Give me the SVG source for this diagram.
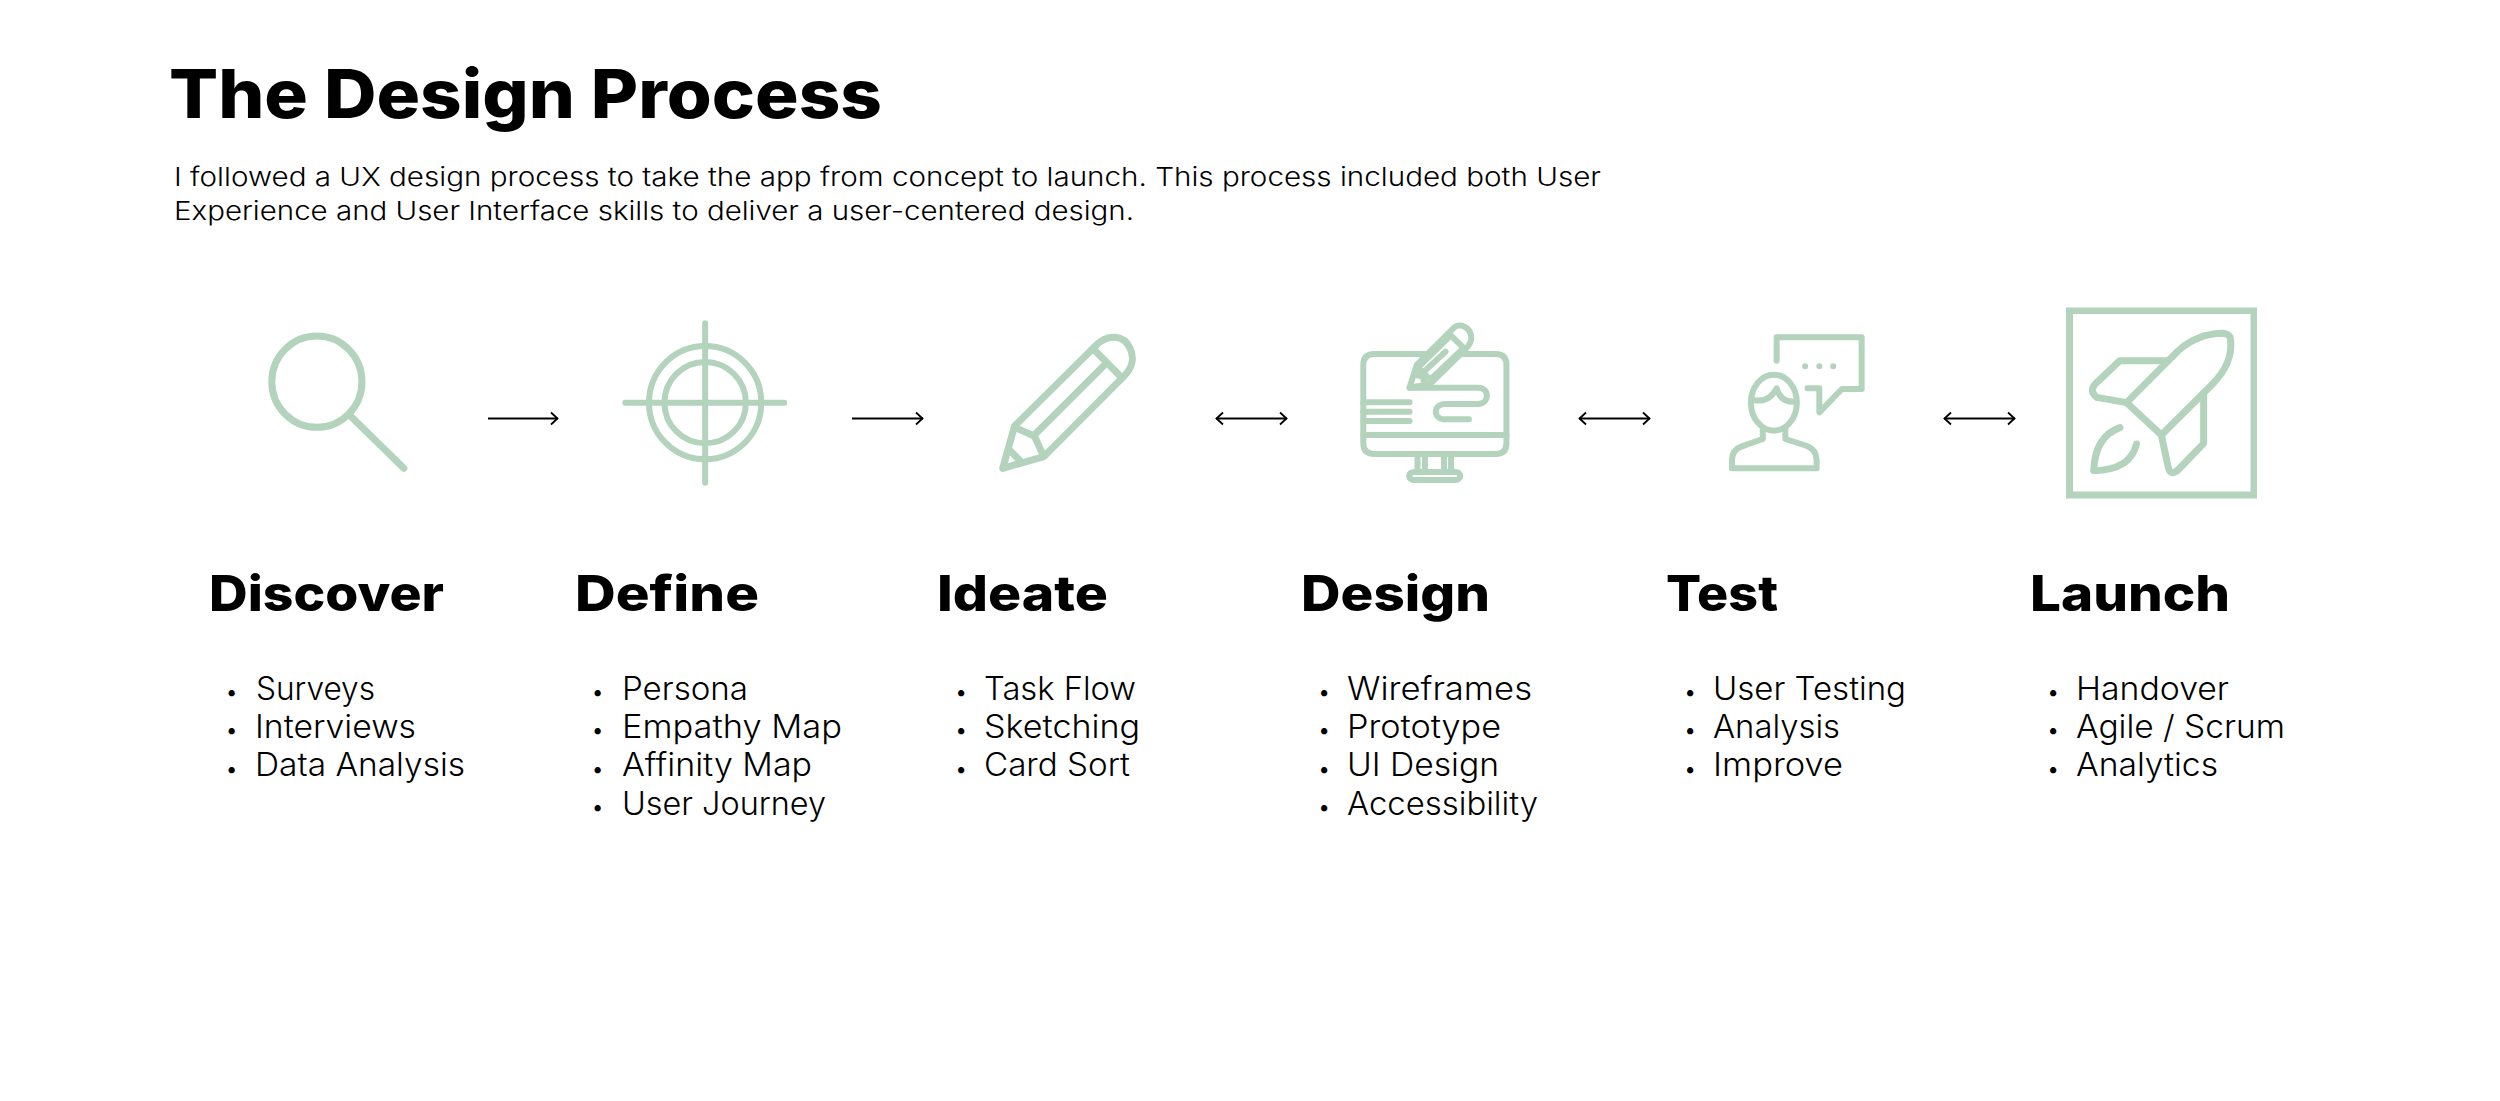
<svg xmlns="http://www.w3.org/2000/svg" width="2500" height="1101" viewBox="0 0 2500 1101">
<style>
text{font-family:"Inter","Liberation Sans",sans-serif;fill:#000}
.t{font-size:67px;font-weight:800}
.p{font-size:26px;font-weight:300}
.h{font-size:49px;font-weight:800}
.l{font-size:32px;font-weight:300}
.b{font-size:20px;text-anchor:middle}
.i *{fill:none;stroke:#b3d3bc;stroke-linecap:round;stroke-linejoin:round;vector-effect:non-scaling-stroke}
.s7 *{stroke-width:7px}
.s6 *{stroke-width:6px}
.s5 *{stroke-width:5.500px}
.c line{stroke:#000;stroke-width:1.800px}
.chev{fill:none;stroke:#000;stroke-width:1.800px}
</style>
<defs>
<marker id="ah" markerUnits="userSpaceOnUse" markerWidth="10" markerHeight="16" refX="9" refY="8" orient="auto-start-reverse"><path class="chev" d="M2 2L8.500 8L2 14"/></marker>
</defs>
<rect width="2500" height="1101" fill="#fff"/>
<text class="t" x="169" y="117.500" textLength="713" lengthAdjust="spacingAndGlyphs">The Design Process</text>
<text class="p" x="174" y="185.500" textLength="1427" lengthAdjust="spacingAndGlyphs">I followed a UX design process to take the app from concept to launch. This process included both User</text>
<text class="p" x="174" y="220" textLength="960" lengthAdjust="spacingAndGlyphs">Experience and User Interface skills to deliver a user-centered design.</text>

<g id="connectors" class="c">
<line x1="488" y1="418.500" x2="558" y2="418.500" marker-end="url(#ah)"/>
<line x1="852" y1="418.500" x2="923" y2="418.500" marker-end="url(#ah)"/>
<line x1="1216" y1="418.500" x2="1287" y2="418.500" marker-start="url(#ah)" marker-end="url(#ah)"/>
<line x1="1579" y1="418.500" x2="1650" y2="418.500" marker-start="url(#ah)" marker-end="url(#ah)"/>
<line x1="1944" y1="418.500" x2="2015" y2="418.500" marker-start="url(#ah)" marker-end="url(#ah)"/>
</g>

<g id="discover">
<g class="i s7" transform="translate(220,290) scale(.3954,.3333)">
<ellipse cx="245" cy="275" rx="114" ry="137"/>
<path d="M330 378L465 535"/>
</g>
<text class="h" x="209" y="611" textLength="235" lengthAdjust="spacingAndGlyphs">Discover</text>
<text class="b" x="231.500" y="699">•</text><text class="l" x="256" y="699.500" textLength="119" lengthAdjust="spacingAndGlyphs">Surveys</text>
<text class="b" x="231.500" y="737">•</text><text class="l" x="255" y="737.500" textLength="161" lengthAdjust="spacingAndGlyphs">Interviews</text>
<text class="b" x="231.500" y="776">•</text><text class="l" x="255" y="776" textLength="210" lengthAdjust="spacingAndGlyphs">Data Analysis</text>
</g>

<g id="define">
<g class="i s6" transform="translate(220,290) scale(.3954,.3333)">
<ellipse cx="1227" cy="338" rx="142" ry="170"/>
<ellipse cx="1227" cy="338" rx="103" ry="122"/>
<path d="M1025 338H1427M1227 100V578"/>
</g>
<text class="h" x="575" y="611" textLength="184" lengthAdjust="spacingAndGlyphs">Define</text>
<text class="b" x="597.600" y="699">•</text><text class="l" x="622" y="699.500" textLength="126" lengthAdjust="spacingAndGlyphs">Persona</text>
<text class="b" x="597.600" y="737">•</text><text class="l" x="622" y="737.500" textLength="220" lengthAdjust="spacingAndGlyphs">Empathy Map</text>
<text class="b" x="597.600" y="776">•</text><text class="l" x="622" y="776" textLength="190" lengthAdjust="spacingAndGlyphs">Affinity Map</text>
<text class="b" x="597.600" y="814">•</text><text class="l" x="622" y="814.500" textLength="204" lengthAdjust="spacingAndGlyphs">User Journey</text>
</g>

<g id="ideate">
<g class="i s7" transform="translate(960,290) scale(.3954,.3333)">
<path d="M108 535L138 408L345 165C375 130 415 135 430 175C442 205 435 235 415 258L212 500Z"/>
<path d="M338 178L408 262M368 222L188 435M138 412L188 438L210 495M125 480L152 512"/>
</g>
<text class="h" x="937" y="611" textLength="171" lengthAdjust="spacingAndGlyphs">Ideate</text>
<text class="b" x="961" y="699">•</text><text class="l" x="984" y="699.500" textLength="152" lengthAdjust="spacingAndGlyphs">Task Flow</text>
<text class="b" x="961" y="737">•</text><text class="l" x="984" y="737.500" textLength="156" lengthAdjust="spacingAndGlyphs">Sketching</text>
<text class="b" x="961" y="776">•</text><text class="l" x="984" y="776" textLength="146" lengthAdjust="spacingAndGlyphs">Card Sort</text>
</g>

<g id="design">
<g class="i s6" transform="translate(960,290) scale(.3954,.3333)">
<path d="M1178 192H1048Q1020 192 1020 225V460Q1020 492 1048 492H1355Q1382 492 1382 460V225Q1382 192 1355 192H1265"/>
<path d="M1020 435H1382M1020 337H1137M1020 365H1137M1020 393H1137"/>
<path d="M1137 293H1310C1340 293 1340 342 1310 342H1228C1195 342 1195 388 1228 388H1287"/>
<path d="M1137 293L1155 225L1250 112C1265 100 1290 110 1293 140C1295 155 1285 170 1275 182L1195 275Q1190 282 1175 285Z"/>
<path d="M1240 135L1275 175M1238 140L1162 228Q1158 240 1170 245L1178 240L1228 185M1270 178L1195 262Q1185 270 1178 255L1172 248M1155 255L1170 260L1175 280"/>
<path d="M1157 492V545M1176 492V545M1224 492V545M1242 492V545"/>
<rect x="1136" y="546" width="129" height="24" rx="12"/>
</g>
<text class="h" x="1301" y="611" textLength="189" lengthAdjust="spacingAndGlyphs">Design</text>
<text class="b" x="1324" y="699">•</text><text class="l" x="1347" y="699.500" textLength="185" lengthAdjust="spacingAndGlyphs">Wireframes</text>
<text class="b" x="1324" y="737">•</text><text class="l" x="1347" y="737.500" textLength="154" lengthAdjust="spacingAndGlyphs">Prototype</text>
<text class="b" x="1324" y="776">•</text><text class="l" x="1347" y="776" textLength="152" lengthAdjust="spacingAndGlyphs">UI Design</text>
<text class="b" x="1324" y="814">•</text><text class="l" x="1347" y="814.500" textLength="191" lengthAdjust="spacingAndGlyphs">Accessibility</text>
</g>

<g id="test">
<g class="i s6" transform="translate(1660,290) scale(.3954,.3333)">
<ellipse cx="288" cy="338" rx="58" ry="84"/>
<path d="M235 330Q275 340 295 295Q305 340 345 335"/>
<path d="M260 415V447L205 470Q182 480 182 510V535H396V510Q396 480 372 468L317 447V415"/>
<path d="M295 212V142H510V297H460L403 367V295H373"/>
<path d="M367 229h.1M403 229h.1M438 229h.1"/>
</g>
<text class="h" x="1666" y="611" textLength="112" lengthAdjust="spacingAndGlyphs">Test</text>
<text class="b" x="1690" y="699">•</text><text class="l" x="1713" y="699.500" textLength="193" lengthAdjust="spacingAndGlyphs">User Testing</text>
<text class="b" x="1690" y="737">•</text><text class="l" x="1713" y="737.500" textLength="127" lengthAdjust="spacingAndGlyphs">Analysis</text>
<text class="b" x="1690" y="776">•</text><text class="l" x="1713" y="776" textLength="130" lengthAdjust="spacingAndGlyphs">Improve</text>
</g>

<g id="launch">
<path fill="#b3d3bc" fill-rule="evenodd" d="M2066 307.500H2257V498.500H2066ZM2073 314V491.500H2250.500V314Z"/>
<g class="i s7" transform="translate(1660,290) scale(.3954,.3333)">
<path d="M1180 338L1310 183Q1360 130 1425 130Q1443 133 1443 150Q1450 220 1395 285L1268 435Z"/>
<path d="M1285 212H1163L1100 283Q1085 305 1105 322L1180 338"/>
<path d="M1375 310V460L1310 540Q1290 560 1285 530L1268 435"/>
<path d="M1163 413Q1100 440 1097 542Q1190 540 1205 462"/>
</g>
<text class="h" x="2030" y="611" textLength="200" lengthAdjust="spacingAndGlyphs">Launch</text>
<text class="b" x="2053" y="699">•</text><text class="l" x="2076" y="699.500" textLength="153" lengthAdjust="spacingAndGlyphs">Handover</text>
<text class="b" x="2053" y="737">•</text><text class="l" x="2076" y="737.500" textLength="209" lengthAdjust="spacingAndGlyphs">Agile / Scrum</text>
<text class="b" x="2053" y="776">•</text><text class="l" x="2076" y="776" textLength="142" lengthAdjust="spacingAndGlyphs">Analytics</text>
</g>
</svg>
